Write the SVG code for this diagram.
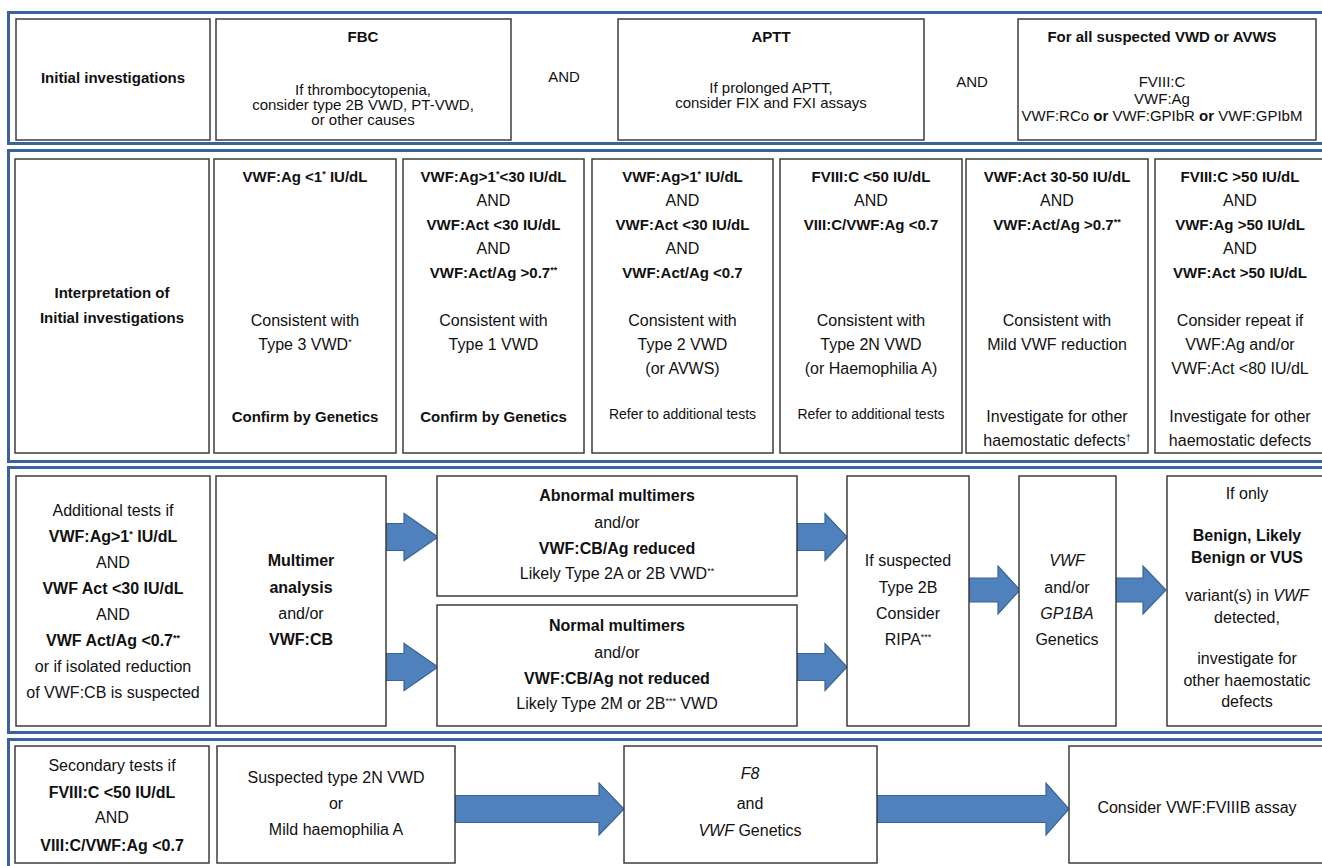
<svg xmlns="http://www.w3.org/2000/svg" width="1322" height="866" viewBox="0 0 1322 866">
<style>
.band{fill:none;stroke:#3a629e;stroke-width:3}
.box{fill:#fff;stroke:#3c3c3c;stroke-width:1.5}
.arrow{fill:#4f81bd;stroke:#3a6494;stroke-width:1.2}
text{font-family:"Liberation Sans",Arial,sans-serif;fill:#111;text-anchor:middle;font-size:15px}
.b{font-weight:bold}
.f16{font-size:16px}
.sm{font-size:14px}
.i{font-style:italic}
.sup{font-size:9px;baseline-shift:super}
</style>
<rect width="1322" height="866" fill="#fff"/>
<g id="bands">
<rect class="band" x="8.5" y="12.5" width="1340" height="131"/>
<rect class="band" x="8.5" y="150.5" width="1340" height="311"/>
<rect class="band" x="8.5" y="467.5" width="1340" height="265"/>
<rect class="band" x="8.5" y="739.5" width="1340" height="140"/>
</g>
<g id="connectors">
<path class="arrow" d="M386,523.5 L404,523.5 L404,513.5 L438,537 L404,560.5 L404,550.5 L386,550.5 Z"/>
<path class="arrow" d="M386,653.5 L404,653.5 L404,643.5 L438,667 L404,690.5 L404,680.5 L386,680.5 Z"/>
<path class="arrow" d="M797,523.5 L825,523.5 L825,513.5 L847,537 L825,560.5 L825,550.5 L797,550.5 Z"/>
<path class="arrow" d="M797,653.5 L825,653.5 L825,643.5 L847,667 L825,690.5 L825,680.5 L797,680.5 Z"/>
<path class="arrow" d="M969,578 L998,578 L998,566 L1020,590 L998,614 L998,602 L969,602 Z"/>
<path class="arrow" d="M1116,578 L1143,578 L1143,566 L1166,590 L1143,614 L1143,602 L1116,602 Z"/>
<path class="arrow" d="M455,795.5 L599,795.5 L599,783 L624,809 L599,835 L599,822.5 L455,822.5 Z"/>
<path class="arrow" d="M877,795.5 L1046,795.5 L1046,783 L1069,809 L1046,835 L1046,822.5 L877,822.5 Z"/>
</g>
<g id="n-initial">
<rect class="box" x="16" y="19" width="194" height="121"/>
<text class="b" x="113" y="83">Initial investigations</text>
</g>
<g id="n-fbc">
<rect class="box" x="216" y="19" width="295" height="121"/>
<text class="b" x="363" y="42">FBC</text>
<text x="363" y="95">If thrombocytopenia,</text>
<text x="363" y="110">consider type 2B VWD, PT-VWD,</text>
<text x="363" y="125">or other causes</text>
</g>
<g id="n-and1"><text x="564" y="82">AND</text></g>
<g id="n-aptt">
<rect class="box" x="618" y="19" width="306" height="121"/>
<text class="b" x="771" y="42">APTT</text>
<text x="771" y="93">If prolonged APTT,</text>
<text x="771" y="108">consider FIX and FXI assays</text>
</g>
<g id="n-and2"><text x="972" y="87">AND</text></g>
<g id="n-all">
<rect class="box" x="1018" y="19" width="298" height="121"/>
<text class="b" x="1162" y="42">For all suspected VWD or AVWS</text>
<text x="1162" y="87">FVIII:C</text>
<text x="1162" y="104">VWF:Ag</text>
<text x="1162" y="121">VWF:RCo <tspan class="b">or</tspan> VWF:GPIbR <tspan class="b">or</tspan> VWF:GPIbM</text>
</g>
<g id="n-interp">
<rect class="box" x="15" y="159" width="194" height="294"/>
<text class="b" x="112" y="298">Interpretation of</text>
<text class="b" x="112" y="323">Initial investigations</text>
</g>
<g id="n-type3">
<rect class="box" x="214" y="159" width="182" height="294"/>
<text class="b" x="305" y="182">VWF:Ag &lt;1<tspan class="sup">*</tspan> IU/dL</text>
<text class="f16" x="305" y="326">Consistent with</text>
<text class="f16" x="305" y="350">Type 3 VWD<tspan class="sup">*</tspan></text>
<text class="b" x="305" y="422">Confirm by Genetics</text>
</g>
<g id="n-type1">
<rect class="box" x="403" y="159" width="181" height="294"/>
<text class="b" x="493.5" y="182">VWF:Ag&gt;1<tspan class="sup">*</tspan>&lt;30 IU/dL</text>
<text class="f16" x="493.5" y="206">AND</text>
<text class="b" x="493.5" y="230">VWF:Act &lt;30 IU/dL</text>
<text class="f16" x="493.5" y="254">AND</text>
<text class="b" x="493.5" y="278">VWF:Act/Ag &gt;0.7<tspan class="sup">**</tspan></text>
<text class="f16" x="493.5" y="326">Consistent with</text>
<text class="f16" x="493.5" y="350">Type 1 VWD</text>
<text class="b" x="493.5" y="422">Confirm by Genetics</text>
</g>
<g id="n-type2">
<rect class="box" x="592" y="159" width="181" height="294"/>
<text class="b" x="682.5" y="182">VWF:Ag&gt;1<tspan class="sup">*</tspan> IU/dL</text>
<text class="f16" x="682.5" y="206">AND</text>
<text class="b" x="682.5" y="230">VWF:Act &lt;30 IU/dL</text>
<text class="f16" x="682.5" y="254">AND</text>
<text class="b" x="682.5" y="278">VWF:Act/Ag &lt;0.7</text>
<text class="f16" x="682.5" y="326">Consistent with</text>
<text class="f16" x="682.5" y="350">Type 2 VWD</text>
<text class="f16" x="682.5" y="374">(or AVWS)</text>
<text class="sm" x="682.5" y="419">Refer to additional tests</text>
</g>
<g id="n-type2n">
<rect class="box" x="780" y="159" width="182" height="294"/>
<text class="b" x="871" y="182">FVIII:C &lt;50 IU/dL</text>
<text class="f16" x="871" y="206">AND</text>
<text class="b" x="871" y="230">VIII:C/VWF:Ag &lt;0.7</text>
<text class="f16" x="871" y="326">Consistent with</text>
<text class="f16" x="871" y="350">Type 2N VWD</text>
<text class="f16" x="871" y="374">(or Haemophilia A)</text>
<text class="sm" x="871" y="419">Refer to additional tests</text>
</g>
<g id="n-mild">
<rect class="box" x="966" y="159" width="182" height="294"/>
<text class="b" x="1057" y="182">VWF:Act 30-50 IU/dL</text>
<text class="f16" x="1057" y="206">AND</text>
<text class="b" x="1057" y="230">VWF:Act/Ag &gt;0.7<tspan class="sup">**</tspan></text>
<text class="f16" x="1057" y="326">Consistent with</text>
<text class="f16" x="1057" y="350">Mild VWF reduction</text>
<text class="f16" x="1057" y="422">Investigate for other</text>
<text class="f16" x="1057" y="446">haemostatic defects<tspan class="sup">†</tspan></text>
</g>
<g id="n-normal">
<rect class="box" x="1155" y="159" width="180" height="294"/>
<text class="b" x="1240" y="182">FVIII:C &gt;50 IU/dL</text>
<text class="f16" x="1240" y="206">AND</text>
<text class="b" x="1240" y="230">VWF:Ag &gt;50 IU/dL</text>
<text class="f16" x="1240" y="254">AND</text>
<text class="b" x="1240" y="278">VWF:Act &gt;50 IU/dL</text>
<text class="f16" x="1240" y="326">Consider repeat if</text>
<text class="f16" x="1240" y="350">VWF:Ag and/or</text>
<text class="f16" x="1240" y="374">VWF:Act &lt;80 IU/dL</text>
<text class="f16" x="1240" y="422">Investigate for other</text>
<text class="f16" x="1240" y="446">haemostatic defects</text>
</g>
<g id="n-additional">
<rect class="box" x="16" y="476" width="194" height="250"/>
<text class="f16" x="113" y="516">Additional tests if</text>
<text class="f16 b" x="113" y="542">VWF:Ag&gt;1<tspan class="sup">*</tspan> IU/dL</text>
<text class="f16" x="113" y="568">AND</text>
<text class="f16 b" x="113" y="594">VWF Act &lt;30 IU/dL</text>
<text class="f16" x="113" y="620">AND</text>
<text class="f16 b" x="113" y="646">VWF Act/Ag &lt;0.7<tspan class="sup">**</tspan></text>
<text class="f16" x="113" y="672">or if isolated reduction</text>
<text class="f16" x="113" y="698">of VWF:CB is suspected</text>
</g>
<g id="n-multimer">
<rect class="box" x="216" y="476" width="170" height="250"/>
<text class="f16 b" x="301" y="566">Multimer</text>
<text class="f16 b" x="301" y="593">analysis</text>
<text class="f16" x="301" y="619">and/or</text>
<text class="f16 b" x="301" y="645">VWF:CB</text>
</g>
<g id="n-abnormal">
<rect class="box" x="437" y="476" width="360" height="120"/>
<text class="f16 b" x="617" y="501">Abnormal multimers</text>
<text class="f16" x="617" y="528">and/or</text>
<text class="f16 b" x="617" y="554">VWF:CB/Ag reduced</text>
<text class="f16" x="617" y="579">Likely Type 2A or 2B VWD<tspan class="sup">**</tspan></text>
</g>
<g id="n-normalmult">
<rect class="box" x="437" y="605" width="360" height="121"/>
<text class="f16 b" x="617" y="631">Normal multimers</text>
<text class="f16" x="617" y="658">and/or</text>
<text class="f16 b" x="617" y="684">VWF:CB/Ag not reduced</text>
<text class="f16" x="617" y="709">Likely Type 2M or 2B<tspan class="sup">***</tspan> VWD</text>
</g>
<g id="n-ripa">
<rect class="box" x="847" y="476" width="122" height="250"/>
<text class="f16" x="908" y="566">If suspected</text>
<text class="f16" x="908" y="593">Type 2B</text>
<text class="f16" x="908" y="619">Consider</text>
<text class="f16" x="908" y="645">RIPA<tspan class="sup">***</tspan></text>
</g>
<g id="n-genetics">
<rect class="box" x="1019" y="476" width="97" height="250"/>
<text class="f16 i" x="1067" y="566">VWF</text>
<text class="f16" x="1067" y="593">and/or</text>
<text class="f16 i" x="1067" y="619">GP1BA</text>
<text class="f16" x="1067" y="645">Genetics</text>
</g>
<g id="n-ifonly">
<rect class="box" x="1167" y="476" width="170" height="250"/>
<text class="f16" x="1247" y="499">If only</text>
<text class="f16 b" x="1247" y="541">Benign, Likely</text>
<text class="f16 b" x="1247" y="563">Benign or VUS</text>
<text class="f16" x="1247" y="601">variant(s) in <tspan class="i">VWF</tspan></text>
<text class="f16" x="1247" y="623">detected,</text>
<text class="f16" x="1247" y="664">investigate for</text>
<text class="f16" x="1247" y="686">other haemostatic</text>
<text class="f16" x="1247" y="707">defects</text>
</g>
<g id="n-secondary">
<rect class="box" x="15" y="746" width="194" height="117"/>
<text class="f16" x="112" y="771">Secondary tests if</text>
<text class="f16 b" x="112" y="798">FVIII:C &lt;50 IU/dL</text>
<text class="f16" x="112" y="823">AND</text>
<text class="f16 b" x="112" y="851">VIII:C/VWF:Ag &lt;0.7</text>
</g>
<g id="n-suspected2n">
<rect class="box" x="217" y="746" width="238" height="117"/>
<text class="f16" x="336" y="783">Suspected type 2N VWD</text>
<text class="f16" x="336" y="809">or</text>
<text class="f16" x="336" y="835">Mild haemophilia A</text>
</g>
<g id="n-f8">
<rect class="box" x="624" y="746" width="253" height="117"/>
<text class="f16 i" x="750" y="779">F8</text>
<text class="f16" x="750" y="809">and</text>
<text class="f16" x="750" y="836"><tspan class="i">VWF</tspan> Genetics</text>
</g>
<g id="n-fviiib">
<rect class="box" x="1069" y="746" width="262" height="117"/>
<text class="f16" x="1197" y="813">Consider VWF:FVIIIB assay</text>
</g>
</svg>
